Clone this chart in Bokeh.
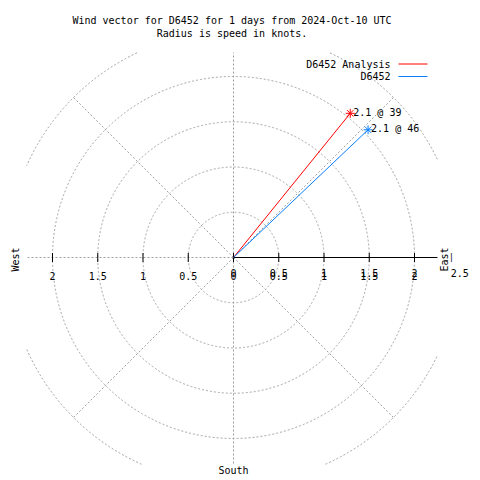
import math
from bokeh.plotting import figure
from bokeh.models import Range1d
from bokeh.core.properties import value
from bokeh.embed import file_html
from bokeh.resources import INLINE

# ---------------- data ----------------
TITLE_LINES = ["Wind vector for D6452 for 1 days from 2024-Oct-10 UTC",
               "Radius is speed in knots."]
SERIES = ["D6452 Analysis", "D6452"]
SPEEDS = [2.05, 2.05]            # knots
DIRECTIONS = [39, 46.5]          # compass degrees
POINT_LABELS = ["2.1 @ 39", "2.1 @ 46"]
COLORS = ["#ff0000", "#0a80ff"]
RINGS = [0.5, 1.0, 1.5, 2.0, 2.5]
SPOKE_ANGLES = [0, 45, 135, 180, 225, 270, 315]   # East (90) is the solid axis
X_TICKS = [-2, -1.5, -1, -0.5, 0, 0.5, 1, 1.5, 2]
X_TICK_LABELS = ["2", "1.5", "1", "0.5", "0", "0.5", "1", "1.5", "2"]
R_TICKS = [0, 0.5, 1, 1.5, 2, 2.5]
R_TICK_LABELS = ["0", "0.5", "1", "1.5", "2", "2.5"]
RMAX = 2.5

# ---------------- layout ----------------
W = H = 480
S = 90.5                 # pixels per knot
CX, CY = 233, 257        # pixel position of the origin
FONT = value("DejaVu Sans Mono")
FS = value("10px")
GRID = "#a0a0a0"

# clip box of the polar grid (in knots)
BX0, BX1 = (26 - CX) / S, (437 - CX) / S
BY0, BY1 = (CY - 464) / S, (CY - 52) / S


def at(px, py):
    return ((px - CX) / S, (CY - py) / S)


def inside(x, y):
    return BX0 <= x <= BX1 and BY0 <= y <= BY1


p = figure(width=W, height=H, output_backend="svg", toolbar_location=None,
           x_range=Range1d(-CX / S, (W - CX) / S),
           y_range=Range1d((CY - H) / S, CY / S),
           x_axis_location=None, y_axis_location=None,
           min_border=0)
p.grid.visible = False
p.outline_line_color = None
p.background_fill_color = "white"
p.border_fill_color = "white"

# rings, clipped to the grid box
xs, ys = [], []
for r in RINGS:
    cx, cy = [], []
    for k in range(0, 1441):
        a = math.radians(k / 4)
        x, y = r * math.cos(a), r * math.sin(a)
        if inside(x, y):
            cx.append(x)
            cy.append(y)
        elif cx:
            xs.append(cx)
            ys.append(cy)
            cx, cy = [], []
    if cx:
        xs.append(cx)
        ys.append(cy)
p.multi_line(xs=xs, ys=ys, line_color=GRID, line_dash="2 2", line_width=1)

# spokes, clipped to the grid box
sx, sy = [], []
for a in SPOKE_ANGLES:
    dx, dy = math.sin(math.radians(a)), math.cos(math.radians(a))
    t = RMAX
    if dx > 1e-9:
        t = min(t, BX1 / dx)
    if dx < -1e-9:
        t = min(t, BX0 / dx)
    if dy > 1e-9:
        t = min(t, BY1 / dy)
    if dy < -1e-9:
        t = min(t, BY0 / dy)
    sx.append(t * dx)
    sy.append(t * dy)
p.segment(x0=[0] * len(sx), y0=[0] * len(sy), x1=sx, y1=sy,
          line_color=GRID, line_dash="2 2", line_width=1)

# solid east axis
p.segment(x0=[0], y0=[0], x1=[min(RMAX, BX1)], y1=[0], line_color="black", line_width=1)

# tick marks
p.scatter(x=X_TICKS, y=[0] * len(X_TICKS), marker="dash", angle=math.pi / 2,
          size=9, line_color="black", line_width=1)

# tick labels (x set and r set, overprinted as in the original)
p.text(x=X_TICKS, y=[0] * len(X_TICKS), text=X_TICK_LABELS, y_offset=18.5,
       text_align="center", text_baseline="middle",
       text_font=FONT, text_font_size=FS, text_color="black")
p.text(x=R_TICKS, y=[0] * len(R_TICKS), text=R_TICK_LABELS, y_offset=15.5,
       text_align="center", text_baseline="middle",
       text_font=FONT, text_font_size=FS, text_color="black")

# vectors
ex = [s * math.sin(math.radians(d)) for s, d in zip(SPEEDS, DIRECTIONS)]
ey = [s * math.cos(math.radians(d)) for s, d in zip(SPEEDS, DIRECTIONS)]
p.segment(x0=[0] * len(ex), y0=[0] * len(ey), x1=ex, y1=ey,
          line_color=COLORS, line_width=1)
p.scatter(x=ex, y=ey, marker="asterisk", size=9, line_color=COLORS, line_width=1)
p.text(x=ex, y=ey, text=POINT_LABELS, x_offset=3, y_offset=-1,
       text_baseline="middle", text_align="left",
       text_font=FONT, text_font_size=FS, text_color="black")

# title
tx, ty = [], []
for i in range(len(TITLE_LINES)):
    x, y = at(231.5, 20 + 13 * i)
    tx.append(x)
    ty.append(y)
p.text(x=tx, y=ty, text=TITLE_LINES, text_align="center", text_baseline="middle",
       text_font=FONT, text_font_size=FS, text_color="black")

# legend
for i, (name, col) in enumerate(zip(SERIES, COLORS)):
    ly = 63.5 + 12.5 * i
    x, y = at(390, ly)
    p.text(x=[x], y=[y], text=[name], text_align="right", text_baseline="middle",
           text_font=FONT, text_font_size=FS, text_color="black")
    x0, y0 = at(398, ly)
    x1, _ = at(427, ly)
    p.segment(x0=[x0], y0=[y0], x1=[x1], y1=[y0], line_color=col, line_width=1)

# compass labels
cl_x, cl_y = [], []
for px_, py_ in [(15, 259), (444, 259)]:
    x, y = at(px_, py_)
    cl_x.append(x)
    cl_y.append(y)
p.text(x=cl_x, y=cl_y, text=["West", "East"], angle=math.pi / 2,
       text_align="center", text_baseline="middle",
       text_font=FONT, text_font_size=FS, text_color="black")
x, y = at(233, 470)
p.text(x=[x], y=[y], text=["South"], text_align="center", text_baseline="middle",
       text_font=FONT, text_font_size=FS, text_color="black")
x, y = at(451, 257)
p.text(x=[x], y=[y], text=["|"], text_align="center", text_baseline="middle",
       text_font=FONT, text_font_size=value("8px"), text_color="black")

open("out.html", "w").write(file_html(p, INLINE))
